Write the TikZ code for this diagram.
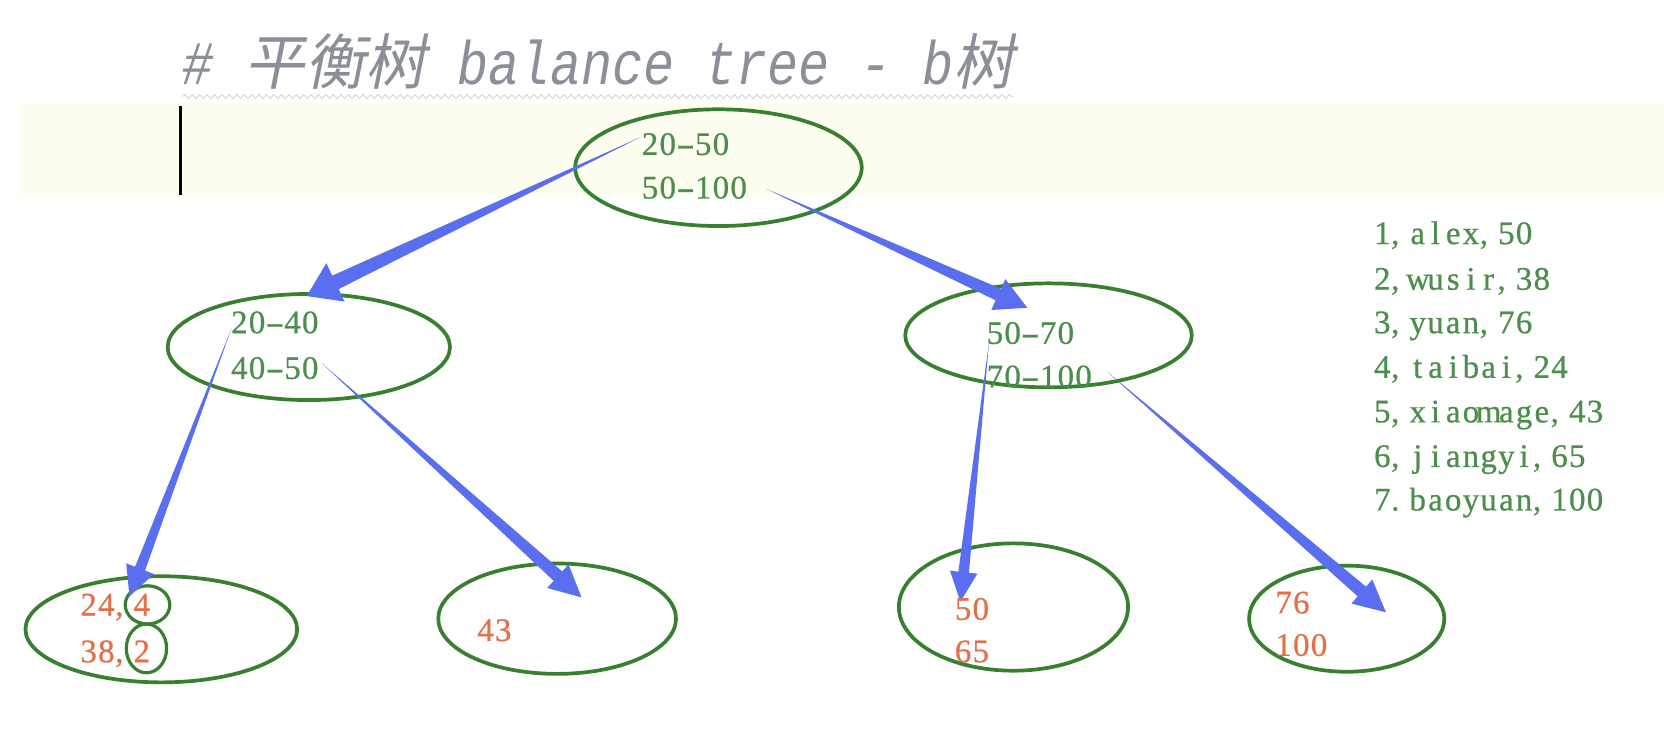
\documentclass[tikz,border=0pt]{standalone}
\usepackage{fontspec}
\usepackage{graphicx}
\usetikzlibrary{calc,shapes.geometric,decorations.pathmorphing}
\newfontfamily\numfont{Liberation Serif}[FakeBold=0.6]
\newfontfamily\titlemono{Liberation Mono}[FakeStretch=0.84]
\newfontfamily\titlecjk{Noto Sans CJK SC}[FakeSlant=0.2]
\definecolor{egreen}{RGB}{56,128,48}
\definecolor{tgreen}{RGB}{76,142,76}
\definecolor{torange}{RGB}{226,112,72}
\definecolor{ablue}{RGB}{90,110,240}
\definecolor{tgray}{RGB}{138,143,153}
\definecolor{bandc}{RGB}{254,254,240}
\newlength\cellw
\setlength\cellw{16.7pt}
\def\cellhy{-}
\def\cellcomma{,}
\def\celldot{.}
\makeatletter
\newcommand\cellify[1]{\@tfor\cc:=#1\do{\cellchar}}
\newcommand\cellchar{%
  \ifx\cc\cellhy\makebox[\cellw][c]{\scalebox{1.7}[1]{-}}%
  \else\ifx\cc\cellcomma\makebox[\cellw][l]{\cc}%
  \else\ifx\cc\celldot\makebox[\cellw][l]{\cc}%
  \else\makebox[\cellw][c]{\cc}\fi\fi\fi}
\makeatother
\newcommand{\wedgearrow}[5]{%
  \coordinate (wb) at ($(#2)!#5!(#1)$);
  \fill[ablue] (#1) -- ($(wb)!#3!90:(#2)$) -- ($(wb)!#4!90:(#2)$) -- (#2)
     -- ($(wb)!#4!-90:(#2)$) -- ($(wb)!#3!-90:(#2)$) -- cycle;}
\tikzset{
  oval/.style={draw=egreen, line width=3.5pt, ellipse, inner sep=0pt},
  gtext/.style={text=tgreen, font={\numfont\fontsize{31}{38}\selectfont}, anchor=base west, inner sep=0pt},
  otext/.style={gtext, text=torange},
  ltext/.style={gtext},
}
\begin{document}
\begin{tikzpicture}[x=1pt,y=-1pt]
\fill[white] (0,0) rectangle (1568,692);
\useasboundingbox (0,0) rectangle (1568,692);
\fill[bandc] (18,97) rectangle (1568,184);
% title
\node[anchor=base west, inner sep=0pt, text=tgray] (title) at (172,80)
  {{\titlemono\itshape\fontsize{58}{64}\selectfont\#\ }{\titlecjk\fontsize{57}{64}\selectfont 平衡树}{\titlemono\itshape\fontsize{58}{64}\selectfont\ balance tree - b}{\titlecjk\fontsize{57}{64}\selectfont 树}};
\draw[decorate, decoration={snake, amplitude=1.8pt, segment length=7pt}, color=gray!30, line width=1pt] (172,91) -- (955,91);
\draw[line width=2.5pt] (170,100) -- (170,184);
% ellipses
\node[oval, minimum width=270pt, minimum height=110pt] (root) at (677,158) {};
\node[oval, minimum width=266pt, minimum height=100pt] (lmid) at (291,327) {};
\node[oval, minimum width=270pt, minimum height=98pt] (rmid) at (988,316) {};
\node[oval, minimum width=256pt, minimum height=100pt] (leafa) at (152,593) {};
\node[oval, minimum width=224pt, minimum height=104pt] (leafb) at (525,583) {};
\node[oval, minimum width=216pt, minimum height=120pt] (leafc) at (955,572) {};
\node[oval, minimum width=184pt, minimum height=100pt] (leafd) at (1269,583) {};
\node[oval, line width=3pt, minimum width=42pt, minimum height=36pt] (ringa) at (139,570) {};
\node[oval, line width=3pt, minimum width=38pt, minimum height=46pt] (ringb) at (138,611) {};
% arrow ends
\coordinate (s1) at (604,129); \coordinate (t1) at (289,279);
\coordinate (s2) at (722,178); \coordinate (t2) at (968,290);
\coordinate (s3) at (218,310); \coordinate (t3) at (122,562);
\coordinate (s4) at (303,342); \coordinate (t4) at (548,563);
\coordinate (s5) at (932,322); \coordinate (t5) at (905,567);
\coordinate (s6) at (1043,350); \coordinate (t6) at (1306,577);
\wedgearrow{s1}{t1}{7pt}{20pt}{30pt}
\wedgearrow{s2}{t2}{6pt}{16pt}{30pt}
\wedgearrow{s3}{t3}{5pt}{14pt}{28pt}
\wedgearrow{s4}{t4}{6pt}{15pt}{30pt}
\wedgearrow{s5}{t5}{5pt}{13pt}{28pt}
\wedgearrow{s6}{t6}{6pt}{15pt}{30pt}
% node texts
\node[gtext] (r1) at (604,146) {\cellify{20-50}};
\node[gtext] (r2) at (604,187) {\cellify{50-100}};
\node[gtext] (l1) at (217,314) {\cellify{20-40}};
\node[gtext] (l2) at (217,357) {\cellify{40-50}};
\node[gtext] (m1) at (929,324) {\cellify{50-70}};
\node[gtext] (m2) at (929,365) {\cellify{70-100}};
\node[otext] (a1) at (75,580) {\cellify{24,4}};
\node[otext] (a2) at (75,624) {\cellify{38,2}};
\node[otext] (b1) at (449,604) {\cellify{43}};
\node[otext] (c1) at (899,584) {\cellify{50}};
\node[otext] (c2) at (899,624) {\cellify{65}};
\node[otext] (d1) at (1201,578) {\cellify{76}};
\node[otext] (d2) at (1201,618) {\cellify{100}};
% list
\node[ltext] (n1) at (1294,230) {\cellify{1,alex,50}};
\node[ltext] (n2) at (1294,273) {\cellify{2,wusir,38}};
\node[ltext] (n3) at (1294,314) {\cellify{3,yuan,76}};
\node[ltext] (n4) at (1294,356) {\cellify{4,taibai,24}};
\node[ltext] (n5) at (1294,398) {\cellify{5,xiaomage,43}};
\node[ltext] (n6) at (1294,440) {\cellify{6,jiangyi,65}};
\node[ltext] (n7) at (1294,481) {\cellify{7.baoyuan,100}};
\end{tikzpicture}
\end{document}
